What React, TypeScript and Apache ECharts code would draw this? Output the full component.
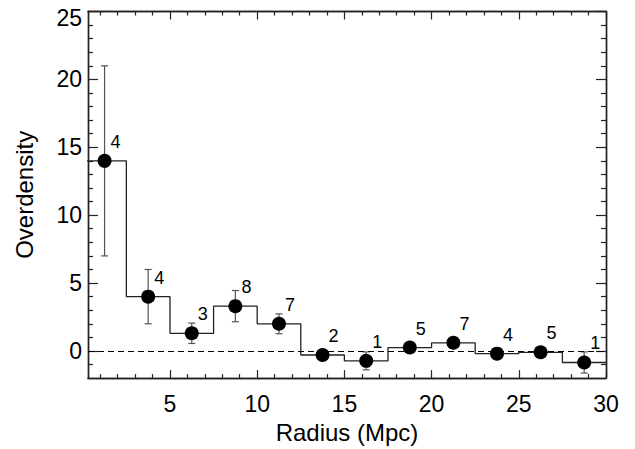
import React, { useEffect, useRef } from "react";
import * as echarts from "echarts";

const radius = [1.25, 3.75, 6.25, 8.75, 11.25, 13.75, 16.25, 18.75, 21.25, 23.75, 26.25, 28.75];
const overdensity = [14, 4, 1.3, 3.3, 2.0, -0.3, -0.73, 0.25, 0.6, -0.2, -0.1, -0.85];
const errors = [7, 2, 0.75, 1.15, 0.73, 0.35, 0.66, 0.35, 0.35, 0.35, 0.35, 0.78];
const counts = [4, 4, 3, 8, 7, 2, 1, 5, 7, 4, 5, 1];
const binWidth = 2.5;

const xMajorTicks = [5, 10, 15, 20, 25, 30];
const xMinorTicks = [1, 2, 3, 4, 6, 7, 8, 9, 11, 12, 13, 14, 16, 17, 18, 19, 21, 22, 23, 24, 26, 27, 28, 29];
const yMajorTicks = [0, 5, 10, 15, 20, 25];
const yMinorTicks = [-1, 1, 2, 3, 4, 6, 7, 8, 9, 11, 12, 13, 14, 16, 17, 18, 19, 21, 22, 23, 24];

const xRange = [0.3, 30];
const yRange = [-2, 25];

const FONT = "'Liberation Sans', Arial, Helvetica, sans-serif";
const AXIS_COLOR = "#222";

export default function App() {
  const ref = useRef<HTMLDivElement>(null);

  useEffect(() => {
    if (!ref.current) return;
    const chart = echarts.init(ref.current, undefined, { renderer: "svg" });

    const stepData: number[][] = [];
    radius.forEach((r, i) => {
      stepData.push([r - binWidth / 2, overdensity[i]]);
      stepData.push([r + binWidth / 2, overdensity[i]]);
    });

    const axisLine = { show: true, onZero: false, lineStyle: { color: AXIS_COLOR, width: 1.4 } };
    const tickStyle = { color: AXIS_COLOR, width: 1.2 };

    const xAxisBase = (position: string, ticks: number[], len: number, labels: boolean, extra: any = {}) => ({
      type: "value",
      position,
      min: xRange[0],
      max: xRange[1],
      axisLine,
      axisTick: { show: true, inside: true, length: len, customValues: ticks, lineStyle: tickStyle },
      axisLabel: labels
        ? { show: true, customValues: xMajorTicks, fontSize: 23, margin: 14, color: "#000", fontFamily: FONT }
        : { show: false },
      splitLine: { show: false },
      ...extra,
    });

    const yAxisBase = (position: string, ticks: number[], len: number, labels: boolean, extra: any = {}) => ({
      type: "value",
      position,
      min: yRange[0],
      max: yRange[1],
      axisLine,
      axisTick: { show: true, inside: true, length: len, customValues: ticks, lineStyle: tickStyle },
      axisLabel: labels
        ? {
            show: true,
            customValues: yMajorTicks,
            fontSize: 23,
            margin: 6,
            color: "#000",
            fontFamily: FONT,
            formatter: (v: number) => (v === yRange[1] ? "{t|" + v + "}" : String(v)),
            rich: { t: { fontSize: 23, fontFamily: FONT, color: "#000", padding: [12, 0, 0, 0] } },
          }
        : { show: false },
      splitLine: { show: false },
      ...extra,
    });

    chart.setOption({
      animation: false,
      backgroundColor: "#fff",
      grid: { left: 88, right: 29, top: 11.5, bottom: 68, containLabel: false },
      xAxis: [
        xAxisBase("bottom", xMajorTicks, 8, true, {
          name: "Radius (Mpc)",
          nameLocation: "middle",
          nameGap: 37,
          nameTextStyle: { fontSize: 24, color: "#000", fontFamily: FONT },
        }),
        xAxisBase("top", xMajorTicks, 8, false),
        xAxisBase("bottom", xMinorTicks, 4, false),
        xAxisBase("top", xMinorTicks, 4, false),
      ],
      yAxis: [
        yAxisBase("left", yMajorTicks, 10, true, {
          name: "Overdensity",
          nameLocation: "middle",
          nameGap: 52,
          nameTextStyle: { fontSize: 24, color: "#000", fontFamily: FONT },
        }),
        yAxisBase("right", yMajorTicks, 10, false),
        yAxisBase("left", yMinorTicks, 5, false),
        yAxisBase("right", yMinorTicks, 5, false),
      ],
      series: [
        {
          type: "line",
          xAxisIndex: 0,
          yAxisIndex: 0,
          data: stepData,
          showSymbol: false,
          symbol: "none",
          clip: true,
          lineStyle: { color: "#222", width: 1.3 },
          z: 2,
          markLine: {
            silent: true,
            symbol: "none",
            label: { show: false },
            lineStyle: { color: "#000", type: [6, 4], width: 1.1 },
            data: [{ yAxis: 0 }],
          },
        },
        {
          type: "custom",
          xAxisIndex: 0,
          yAxisIndex: 0,
          data: radius.map((r, i) => [r, overdensity[i], errors[i]]),
          encode: { x: 0, y: 1 },
          clip: true,
          z: 3,
          renderItem: (params: any, api: any) => {
            const x = api.value(0);
            const y = api.value(1);
            const e = api.value(2);
            const top = api.coord([x, y + e]);
            const bot = api.coord([x, y - e]);
            const cap = 3.5;
            const style = { stroke: "#555", lineWidth: 1.2 };
            return {
              type: "group",
              children: [
                { type: "line", shape: { x1: top[0], y1: top[1], x2: bot[0], y2: bot[1] }, style },
                { type: "line", shape: { x1: top[0] - cap, y1: top[1], x2: top[0] + cap, y2: top[1] }, style },
                { type: "line", shape: { x1: bot[0] - cap, y1: bot[1], x2: bot[0] + cap, y2: bot[1] }, style },
              ],
            };
          },
        },
        {
          type: "scatter",
          xAxisIndex: 0,
          yAxisIndex: 0,
          data: radius.map((r, i) => [r, overdensity[i], counts[i]]),
          symbol: "circle",
          symbolSize: 14,
          itemStyle: { color: "#000", opacity: 1 },
          emphasis: { disabled: true },
          z: 4,
          label: {
            show: true,
            position: "inside",
            offset: [11, -19],
            formatter: (p: any) => String(p.value[2]),
            fontSize: 18,
            color: "#000",
            opacity: 1,
            fontFamily: FONT,
          },
        },
      ],
    });

    return () => chart.dispose();
  }, []);

  return (
    <div
      ref={ref}
      style={{ position: "absolute", left: 0, top: 0, width: 635, height: 449, background: "#fff" }}
    />
  );
}
